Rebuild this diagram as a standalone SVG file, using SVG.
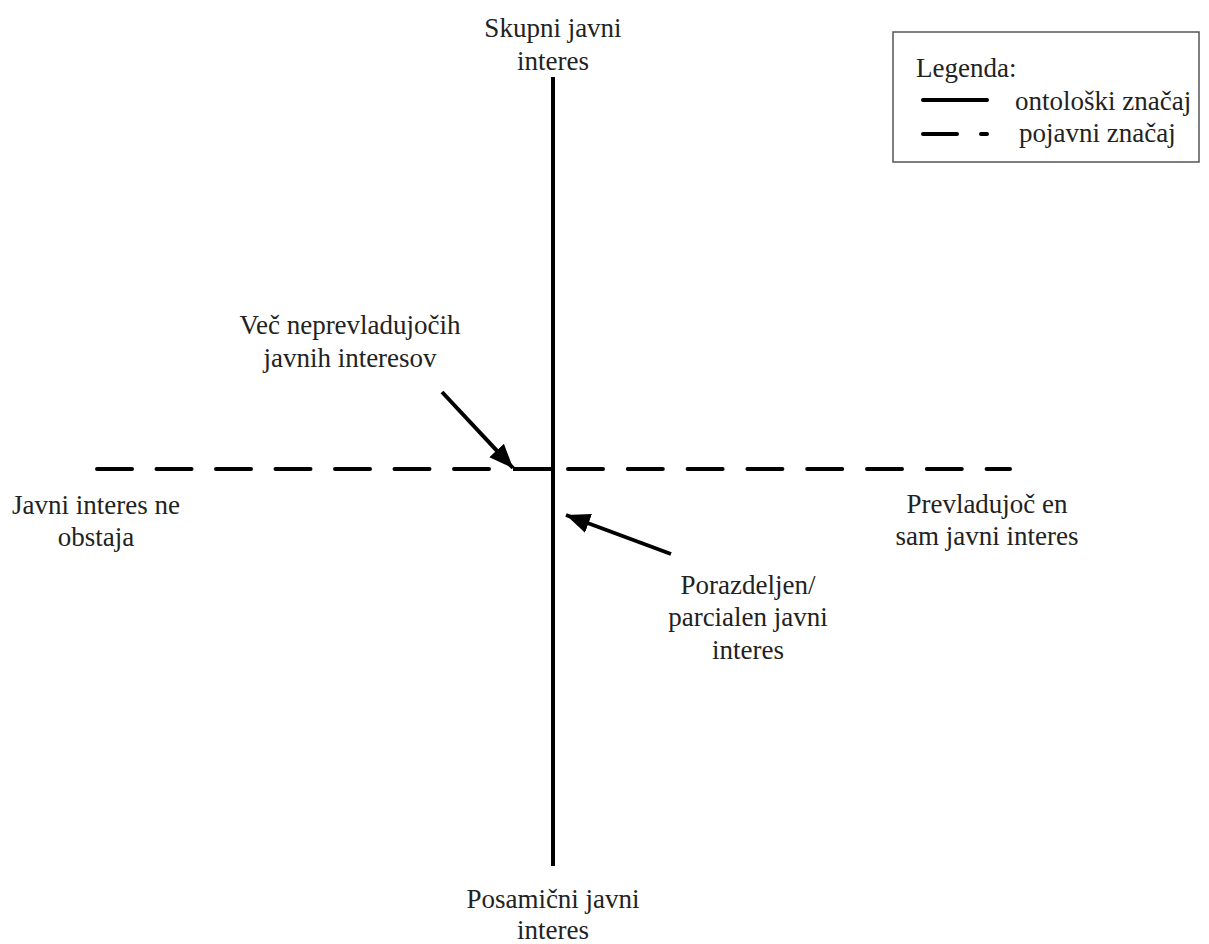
<svg xmlns="http://www.w3.org/2000/svg" width="1209" height="944" viewBox="0 0 1209 944">
<style>
text{font-family:"Liberation Serif","Times New Roman",serif;font-size:27px;fill:#222;}
.c{text-anchor:middle;}
.solid{stroke:#000;stroke-width:4;fill:none;}
.dash{stroke:#000;stroke-width:4;fill:none;stroke-linecap:round;}
.arr{stroke:#000;stroke-width:4;fill:none;marker-end:url(#ah);}
</style>
<defs>
<marker id="ah" markerUnits="userSpaceOnUse" markerWidth="26" markerHeight="22" refX="24" refY="11" orient="auto">
<path d="M0,1 L24,11 L0,21 Z" fill="#000"/>
</marker>
</defs>
<rect width="1209" height="944" fill="#fff"/>
<g id="connectors">
<line class="solid" x1="553" y1="77" x2="553" y2="866"/>
<line class="dash" x1="97" y1="469" x2="490" y2="469" stroke-dasharray="35 24.5"/>
<line class="solid" x1="513" y1="469" x2="553" y2="469"/>
<line class="dash" x1="568" y1="469" x2="1010" y2="469" stroke-dasharray="35 24.8"/>
<line class="arr" x1="442" y1="392" x2="513" y2="468"/>
<line class="arr" x1="671" y1="554" x2="566" y2="515"/>
</g>
<g id="top">
<text class="c" x="553" y="37">Skupni javni</text>
<text class="c" x="553" y="70">interes</text>
</g>
<g id="bottom">
<text class="c" x="553" y="908">Posamični javni</text>
<text class="c" x="553" y="939">interes</text>
</g>
<g id="left">
<text class="c" x="96" y="514">Javni interes ne</text>
<text class="c" x="96" y="546">obstaja</text>
</g>
<g id="right">
<text class="c" x="987" y="513">Prevladujoč en</text>
<text class="c" x="987" y="545">sam javni interes</text>
</g>
<g id="vec">
<text class="c" x="350" y="334">Več neprevladujočih</text>
<text class="c" x="350" y="367">javnih interesov</text>
</g>
<g id="porazdeljen">
<text class="c" x="748" y="594">Porazdeljen/</text>
<text class="c" x="748" y="626">parcialen javni</text>
<text class="c" x="748" y="659">interes</text>
</g>
<g id="legend">
<rect x="893" y="32" width="306" height="130" fill="#fff" stroke="#555" stroke-width="1.5"/>
<text x="916" y="77">Legenda:</text>
<line class="dash" x1="923" y1="100" x2="987" y2="100"/>
<text x="1015" y="110">ontološki značaj</text>
<line class="dash" x1="923" y1="134" x2="957" y2="134"/>
<line class="dash" x1="981" y1="134" x2="987" y2="134"/>
<text x="1019" y="142">pojavni značaj</text>
</g>
</svg>
